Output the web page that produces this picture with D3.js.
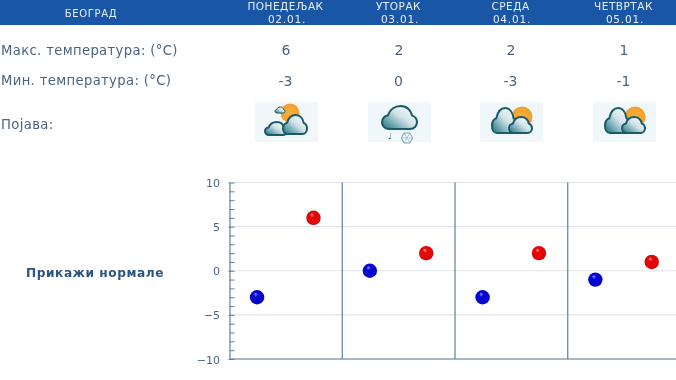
<!DOCTYPE html>
<html><head><meta charset="utf-8">
<script src="https://d3js.org/d3.v7.min.js"></script>
<style>
html,body{margin:0;padding:0;background:#fff;overflow:hidden}
svg{display:block;filter:blur(.35px)}
text{font-family:"DejaVu Sans",sans-serif}
</style></head><body>
<svg id="c" width="676" height="380" viewBox="0 0 676 380"></svg>
<script>
const city = "БЕОГРАД";
const days = ["ПОНЕДЕЉАК","УТОРАК","СРЕДА","ЧЕТВРТАК"];
const dates = ["02.01.","03.01.","04.01.","05.01."];
const maxTemps = [6,2,2,1];
const minTemps = [-3,0,-3,-1];
const icons = ["partly","snow","cloudsun","cloudsun"];
const rowLabels = ["Макс. температура: (°C)","Мин. температура: (°C)","Појава:"];
const normalsLabel = "Прикажи нормале";
const yMajor = [10,5,0,-5,-10];

const svg = d3.select("#c");
const defs = svg.append("defs");
function ball(id,light,mid,dark){
  const g = defs.append("radialGradient").attr("id",id).attr("cx","50%").attr("cy","50%").attr("r","55%").attr("fx","38%").attr("fy","26%");
  g.append("stop").attr("offset","0").attr("stop-color",light);
  g.append("stop").attr("offset",".28").attr("stop-color",mid);
  g.append("stop").attr("offset",".8").attr("stop-color",mid);
  g.append("stop").attr("offset","1").attr("stop-color",dark);
}
ball("bBlue","#9a9aff","#0606d2","#000080");
ball("bRed","#ff9f9f","#e60606","#800000");
const cg2 = defs.append("linearGradient").attr("id","cloud2").attr("x1","0").attr("y1","1").attr("x2","1").attr("y2","0.1");
cg2.append("stop").attr("offset","0").attr("stop-color","#15717f");
cg2.append("stop").attr("offset",".55").attr("stop-color","#cfe1e6");
cg2.append("stop").attr("offset","1").attr("stop-color","#ffffff");
const sg = defs.append("radialGradient").attr("id","sun");
sg.append("stop").attr("offset","0").attr("stop-color","#f7b040");
sg.append("stop").attr("offset","1").attr("stop-color","#f2a02a");

const textCol = "#4a6480";
// header
svg.append("rect").attr("width",676).attr("height",25).attr("fill","#1a56a6");
svg.append("text").attr("x",91).attr("y",16.5).attr("text-anchor","middle").attr("font-size",10).attr("letter-spacing",.7).attr("fill","#e8eef6").text(city);

const colX = d3.scaleOrdinal().domain(d3.range(4)).range([286,399,511,624]);
days.forEach((d,i)=>{
  svg.append("text").attr("x",colX(i)-.5).attr("y",9.5).attr("text-anchor","middle").attr("font-size",10.5).attr("letter-spacing",.5).attr("fill","#e8eef6").text(d);
  svg.append("text").attr("x",colX(i)+1).attr("y",23).attr("text-anchor","middle").attr("font-size",10.5).attr("letter-spacing",.8).attr("fill","#e8eef6").text(dates[i]);
});
// rows
const rowY = [54.5,85,129];
rowLabels.forEach((t,i)=>svg.append("text").attr("x",1).attr("y",rowY[i]).attr("font-size",13.2).attr("letter-spacing",.35).attr("fill",textCol).text(t));
maxTemps.forEach((v,i)=>svg.append("text").attr("x",colX(i)).attr("y",55).attr("text-anchor","middle").attr("font-size",14).attr("fill",textCol).text(v));
minTemps.forEach((v,i)=>svg.append("text").attr("x",colX(i)-.5).attr("y",85.5).attr("text-anchor","middle").attr("font-size",14).attr("fill",textCol).text(v));

// icons
const cloudPath = "M7 24C2 24 0 20 0 17C0 13 3 10 6 10C8 4 13 0 19 0C26 0 30 5 31 10C34 11 36 14 36 17C36 21 33 24 29 24Z";
function cloud(g,x,y,w,h,sw){
  g.append("path").attr("d",cloudPath).attr("transform",`translate(${x},${y}) scale(${w/36},${h/24})`)
   .attr("fill","url(#cloud2)").attr("stroke","#1a5a6a").attr("stroke-width",sw||2).attr("vector-effect","non-scaling-stroke").attr("stroke-linejoin","round");
}
icons.forEach((kind,i)=>{
  const g = svg.append("g").attr("transform",`translate(${colX(i)-31},102)`);
  g.append("rect").attr("width",63).attr("height",40).attr("fill","#eff7fb");
  if(kind==="partly"){
    g.append("circle").attr("cx",35).attr("cy",11).attr("r",9.5).attr("fill","url(#sun)");
    cloud(g,20,5,10,6,1);
    cloud(g,10,20,22,13);
    cloud(g,28,13,24,19);
  } else if(kind==="snow"){
    cloud(g,14,4,35,23);
    g.append("text").attr("x",20).attr("y",37).attr("font-size",8).attr("fill","#1d6474").text("♩");
    g.append("polygon").attr("points","33.5,36 36,31 42,31 44.5,36 42,41 36,41").attr("fill","#f5fbfd").attr("stroke","#6f9fae").attr("stroke-width",1);
    g.append("path").attr("d","M33.5,36H44.5M36,31L42,41M42,31L36,41").attr("stroke","#8fb5c0").attr("stroke-width",.7);
  } else {
    g.append("circle").attr("cx",42).attr("cy",15).attr("r",10.5).attr("fill","url(#sun)");
    cloud(g,12,6,25,25);
    cloud(g,29,15,23,16);
  }
});

svg.append("text").attr("x",26).attr("y",276.5).attr("font-size",12.2).attr("font-weight","bold").attr("letter-spacing",.55).attr("fill","#2c5480").text(normalsLabel);

// chart
const left = 229.5, top_ = 182.5, bottom = 359, right = 676;
const y = d3.scaleLinear().domain([-10,10]).range([bottom,top_]);
const band = d3.scaleBand().domain(d3.range(4)).range([left,left+451]);
const axisCol = "#5f7f97";

svg.append("g").selectAll("line").data(yMajor).join("line")
  .attr("x1",left).attr("x2",right).attr("y1",d=>y(d)).attr("y2",d=>y(d))
  .attr("stroke","#dfe5ea").attr("stroke-width",1.2);

const yAxis = d3.axisLeft(y).tickValues(d3.range(-10,10.5,1)).tickSize(0).tickFormat("");
const ag = svg.append("g").attr("transform",`translate(${left},0)`).call(yAxis);
ag.select(".domain").attr("stroke",axisCol).attr("stroke-width",1.2);
ag.selectAll(".tick line").remove();
ag.selectAll(".tick").append("line").attr("x1",0).attr("x2",5).attr("stroke",axisCol).attr("stroke-width",1);
ag.selectAll(".tick").filter(d=>d%5===0).select("line").attr("x1",-1);

svg.append("g").selectAll("text").data(yMajor).join("text")
  .attr("x",220).attr("y",d=>y(d)+4.5).attr("text-anchor","end").attr("font-size",11).attr("fill",textCol)
  .text(d=>d<0?"−"+(-d):d);

svg.append("line").attr("x1",left).attr("x2",right).attr("y1",bottom).attr("y2",bottom).attr("stroke",axisCol).attr("stroke-width",1.2);
svg.append("g").selectAll("line").data(d3.range(1,4)).join("line")
  .attr("x1",d=>band(d)).attr("x2",d=>band(d)).attr("y1",top_).attr("y2",bottom)
  .attr("stroke",axisCol).attr("stroke-width",1.2);

const pts = svg.append("g").attr("transform","translate(-.6,0)");
pts.selectAll(".mn").data(minTemps).join("circle").attr("class","mn")
  .attr("cx",(d,i)=>band(i)+band.bandwidth()*.25).attr("cy",d=>y(d)).attr("r",7.2).attr("fill","url(#bBlue)");
pts.selectAll(".mx").data(maxTemps).join("circle").attr("class","mx")
  .attr("cx",(d,i)=>band(i)+band.bandwidth()*.75).attr("cy",d=>y(d)).attr("r",7.2).attr("fill","url(#bRed)");
</script></body></html>
